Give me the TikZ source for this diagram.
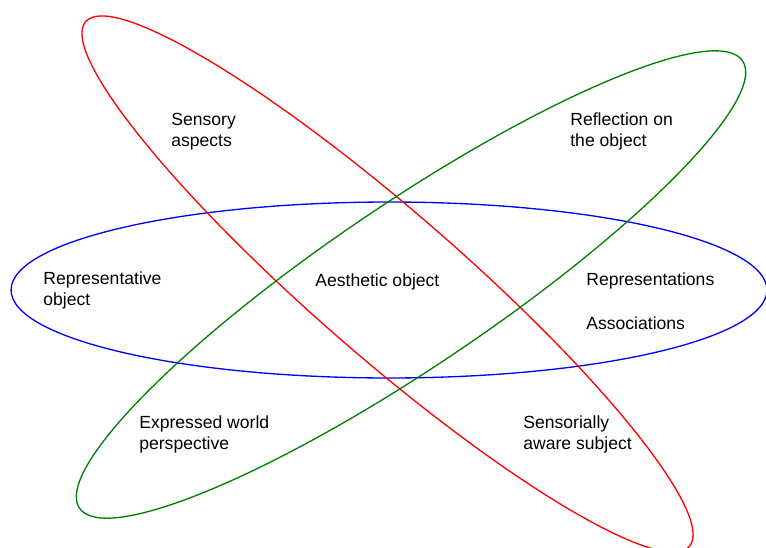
\documentclass[tikz,border=0pt]{standalone}
\usepackage{fontspec}
\setmainfont{Liberation Sans}
\definecolor{darkgreen}{RGB}{0,128,0}

\begin{document}
\begin{tikzpicture}[x=0.02cm, y=-0.02cm,
  txt/.style={anchor=west, align=left, inner sep=0pt, font=\fontsize{10}{12}\selectfont},
  ring/.style={line width=0.75pt}]

\useasboundingbox (0,0) rectangle (766,547);

\draw[ring, blue] (389,290) ellipse [x radius=7.56cm, y radius=1.76cm];
\draw[ring, red, rotate around={-41:(387.5,284)}] (387.5,284) ellipse [x radius=8cm, y radius=1.45cm];
\draw[ring, darkgreen, rotate around={34:(411,284.5)}] (411,284.5) ellipse [x radius=8cm, y radius=1.63cm];

\node[txt] (sensory) at (171,132) {Sensory\\aspects};
\node[txt] (reflection) at (570,131) {Reflection on\\the object};
\node[txt] (representative) at (43,290) {Representative\\object};
\node[txt] (aesthetic) at (315,282) {Aesthetic object};
\node[txt] (representations) at (586,281) {Representations};
\node[txt] (associations) at (586,323) {Associations};
\node[txt] (expressed) at (139,434) {Expressed world\\perspective};
\node[txt] (sensorially) at (523,434) {Sensorially\\aware subject};

\end{tikzpicture}
\end{document}
